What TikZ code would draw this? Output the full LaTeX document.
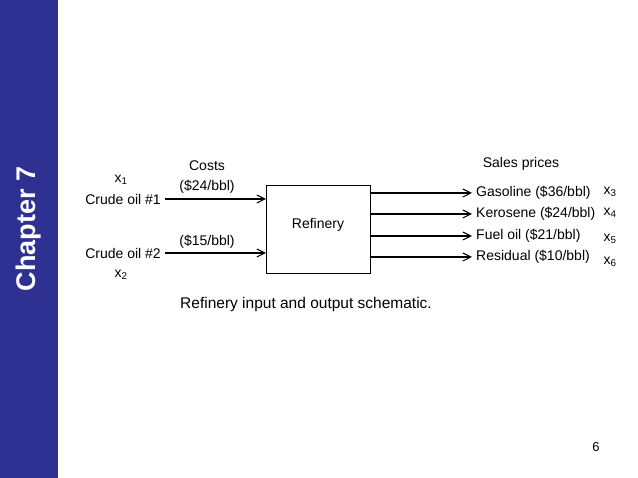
\documentclass[tikz,border=0pt]{standalone}
\usepackage{fontspec}
\setmainfont{Liberation Sans}
\usetikzlibrary{arrows.meta}
\begin{document}
\begin{tikzpicture}[x=1pt,y=-1pt,
  lbl/.style={inner sep=0pt,font=\fontsize{14}{16}\selectfont},
  xl/.style={inner sep=0pt,font=\fontsize{14}{16}\selectfont},
  flow/.style={line width=1.1pt,-{Straight Barb[length=8pt,width=8pt]}}]
\useasboundingbox (0,0) rectangle (638,478);
\fill[white] (0,0) rectangle (638,478);
\fill[fill={rgb,255:red,46;green,49;blue,146}] (0,0) rectangle (58,478);
\node[rotate=90,text=white,font=\bfseries\fontsize{27}{30}\selectfont] (ch) at (29,229) {Chapter 7};
\node[draw,line width=0.8pt,minimum width=104pt,minimum height=88pt,inner sep=0pt] (ref) at (318,229) {};
\node[lbl] (reft) at (318,225) {Refinery};
\node[lbl] (costs) at (207,166) {Costs};
\node[lbl] (sales) at (521,164) {Sales prices};
\node[lbl,anchor=east] (c1) at (161,199) {Crude oil \#1};
\node[lbl,anchor=east] (c2) at (161,253) {Crude oil \#2};
\node[lbl] (p1) at (207,187) {(\$24/bbl)};
\node[lbl] (p2) at (207,242) {(\$15/bbl)};
\node[xl] (x1) at (121,180) {x\textsubscript{1}};
\node[xl] (x2) at (121,275) {x\textsubscript{2}};
\coordinate (i1) at (266,199);
\coordinate (i2) at (266,253);
\draw[flow] (c1.east) ++(4,0) coordinate (s1) -- (i1);
\draw[flow] (c2.east) ++(4,0) coordinate (s2) -- (i2);
\node[lbl,anchor=west] (g) at (476,193) {Gasoline (\$36/bbl)};
\node[lbl,anchor=west] (k) at (476,214) {Kerosene (\$24/bbl)};
\node[lbl,anchor=west] (f) at (476,236) {Fuel oil (\$21/bbl)};
\node[lbl,anchor=west] (r) at (476,257) {Residual (\$10/bbl)};
\foreach \n/\y in {g/193,k/214,f/236,r/257}{
  \coordinate (o\n) at (370,\y);
  \draw[flow,shorten >=4pt] (o\n) -- (\n.west);
}
\node[xl] (x3) at (610,192) {x\textsubscript{3}};
\node[xl] (x4) at (610,213) {x\textsubscript{4}};
\node[xl] (x5) at (610,239) {x\textsubscript{5}};
\node[xl] (x6) at (610,262) {x\textsubscript{6}};
\node[inner sep=0pt,font=\fontsize{15.5}{18}\selectfont] (cap) at (306,304) {Refinery input and output schematic.};
\node[inner sep=0pt,font=\fontsize{13}{15}\selectfont] (pg) at (596,447) {6};
\end{tikzpicture}
\end{document}
